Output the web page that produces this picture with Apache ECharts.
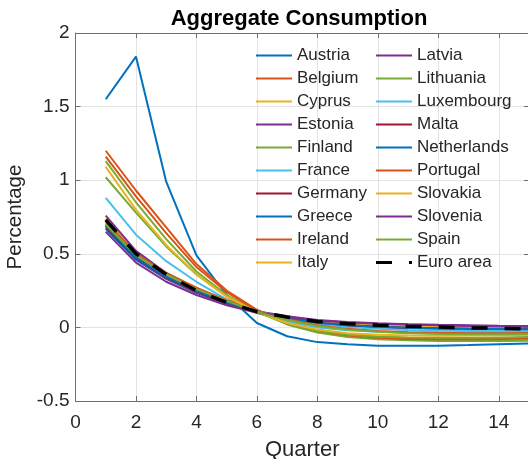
<!DOCTYPE html>
<html>
<head>
<meta charset="utf-8">
<script src="https://cdn.jsdelivr.net/npm/echarts@6/dist/echarts.min.js"></script>
<style>
  html, body { margin: 0; padding: 0; background: #fff; }
  #chart { width: 528px; height: 459px; }
</style>
</head>
<body>
<div id="chart"></div>
<script>
// Quarters after the shock
const quarters = [1, 2, 3, 4, 5, 6, 7, 8, 9, 10, 11, 12, 13, 14, 15];

// Consumption response by country (percentage)
const Austria     = [1.55, 1.84, 0.99, 0.49, 0.22, 0.03, -0.06, -0.10, -0.115, -0.125, -0.125, -0.124, -0.12, -0.115, -0.11];
const Belgium     = [1.20, 0.93, 0.68, 0.43, 0.25, 0.12, 0.03, -0.02, -0.05, -0.065, -0.072, -0.075, -0.076, -0.075, -0.074];
const Cyprus      = [0.74, 0.51, 0.37, 0.265, 0.18, 0.11, 0.068, 0.04, 0.024, 0.014, 0.007, 0.002, -0.002, -0.005, -0.008];
const Estonia     = [0.69, 0.46, 0.33, 0.235, 0.16, 0.105, 0.07, 0.045, 0.03, 0.022, 0.016, 0.012, 0.009, 0.007, 0.005];
const Finland     = [1.13, 0.85, 0.60, 0.38, 0.22, 0.11, 0.02, -0.035, -0.065, -0.08, -0.088, -0.092, -0.093, -0.092, -0.09];
const France      = [0.88, 0.63, 0.45, 0.31, 0.19, 0.10, 0.04, 0.0, -0.02, -0.03, -0.035, -0.037, -0.037, -0.036, -0.035];
const Germany     = [0.70, 0.48, 0.35, 0.25, 0.17, 0.105, 0.065, 0.035, 0.018, 0.008, 0.002, -0.002, -0.005, -0.007, -0.008];
const Greece      = [0.67, 0.46, 0.335, 0.24, 0.165, 0.10, 0.06, 0.03, 0.012, 0.002, -0.004, -0.008, -0.01, -0.011, -0.012];
const Ireland     = [1.16, 0.89, 0.64, 0.41, 0.24, 0.115, 0.025, -0.025, -0.055, -0.07, -0.078, -0.08, -0.08, -0.079, -0.077];
const Italy       = [0.73, 0.50, 0.36, 0.25, 0.17, 0.107, 0.07, 0.04, 0.025, 0.015, 0.008, 0.002, -0.003, -0.006, -0.01];
const Latvia      = [0.76, 0.52, 0.37, 0.26, 0.175, 0.11, 0.075, 0.05, 0.037, 0.028, 0.022, 0.018, 0.015, 0.012, 0.01];
const Lithuania   = [1.02, 0.78, 0.55, 0.36, 0.21, 0.105, 0.025, -0.025, -0.05, -0.062, -0.068, -0.07, -0.07, -0.068, -0.066];
const Luxembourg  = [0.71, 0.49, 0.36, 0.26, 0.18, 0.11, 0.06, 0.025, 0.003, -0.01, -0.018, -0.022, -0.024, -0.025, -0.025];
const Malta       = [0.68, 0.47, 0.34, 0.245, 0.165, 0.105, 0.063, 0.033, 0.015, 0.005, -0.002, -0.006, -0.009, -0.01, -0.011];
const Netherlands = [0.69, 0.475, 0.345, 0.25, 0.17, 0.105, 0.062, 0.032, 0.014, 0.004, -0.003, -0.007, -0.01, -0.011, -0.012];
const Portugal    = [0.72, 0.50, 0.37, 0.27, 0.185, 0.11, 0.055, 0.015, -0.01, -0.025, -0.033, -0.037, -0.039, -0.039, -0.038];
const Slovakia    = [1.09, 0.80, 0.56, 0.36, 0.21, 0.105, 0.03, -0.015, -0.04, -0.05, -0.055, -0.056, -0.055, -0.053, -0.05];
const Slovenia    = [0.65, 0.44, 0.31, 0.22, 0.15, 0.10, 0.07, 0.047, 0.033, 0.025, 0.019, 0.015, 0.012, 0.01, 0.008];
const Spain       = [0.70, 0.49, 0.36, 0.26, 0.18, 0.105, 0.05, 0.01, -0.015, -0.03, -0.04, -0.045, -0.047, -0.047, -0.046];
const EuroArea    = [0.73, 0.50, 0.36, 0.25, 0.17, 0.107, 0.07, 0.04, 0.025, 0.015, 0.008, 0.002, -0.003, -0.006, -0.01];

const countryNames = ['Austria', 'Belgium', 'Cyprus', 'Estonia', 'Finland', 'France', 'Germany',
  'Greece', 'Ireland', 'Italy', 'Latvia', 'Lithuania', 'Luxembourg', 'Malta', 'Netherlands',
  'Portugal', 'Slovakia', 'Slovenia', 'Spain'];
const countryValues = [Austria, Belgium, Cyprus, Estonia, Finland, France, Germany,
  Greece, Ireland, Italy, Latvia, Lithuania, Luxembourg, Malta, Netherlands,
  Portugal, Slovakia, Slovenia, Spain];

// Seven-colour cycle
const palette = ['#0072BD', '#D95319', '#EDB120', '#7E2F8E', '#77AC30', '#4DBEEE', '#A2142F'];

const FONT = '"Liberation Sans", Arial, Helvetica, sans-serif';
const TEXT = '#262626';
const AXIS = '#6e6e6e';

// Legend swatches: a thin bar for countries, dash + dot for the euro area
const LINE_ICON = 'path://M0,0.6h36v1.8h-36z M36,0L36,3';
const DASH_ICON = 'path://M0,0h16v3h-16z M33,0h3v3h-3z';

const pairs = vals => quarters.map((q, i) => [q, vals[i]]);

const series = countryNames.map((name, i) => ({
  name,
  type: 'line',
  data: pairs(countryValues[i]),
  symbol: 'none',
  color: palette[i % palette.length],
  lineStyle: { width: 2, color: palette[i % palette.length] },
  emphasis: { disabled: true },
  z: 2
}));
series.push({
  name: 'Euro area',
  type: 'line',
  data: pairs(EuroArea),
  symbol: 'none',
  color: '#000',
  lineStyle: { width: 3.5, color: '#000', type: [16, 17] },
  emphasis: { disabled: true },
  z: 3
});

const legendCommon = {
  orient: 'vertical',
  top: 44,
  itemWidth: 36,
  itemHeight: 3,
  itemGap: 0,
  padding: 0,
  icon: LINE_ICON,
  selectedMode: false,
  itemStyle: { borderWidth: 0 },
  textStyle: { fontFamily: FONT, fontSize: 17, color: TEXT, lineHeight: 23 }
};

const leftItems = countryNames.slice(0, 10).map(name => ({ name }));
const rightItems = countryNames.slice(10).map(name => ({ name }))
  .concat([{ name: 'Euro area', icon: DASH_ICON }]);

const chart = echarts.init(document.getElementById('chart'), null, { renderer: 'canvas' });
chart.setOption({
  backgroundColor: '#fff',
  animation: false,
  title: {
    text: 'Aggregate Consumption',
    left: 294,
    top: 3,
    textAlign: 'center',
    textStyle: { fontFamily: FONT, fontSize: 22, fontWeight: 'bold', color: '#000' }
  },
  legend: [
    Object.assign({}, legendCommon, { left: 256, data: leftItems }),
    Object.assign({}, legendCommon, { left: 376, data: rightItems })
  ],
  grid: {
    left: 75.5, top: 33, width: 453.5, height: 368,
    containLabel: false, outerBoundsMode: 'none'
  },
  xAxis: [{
    type: 'value', min: 0, max: 15, interval: 2,
    name: 'Quarter', nameLocation: 'middle', nameGap: 38,
    nameTextStyle: { fontFamily: FONT, fontSize: 22, color: TEXT },
    axisLine: { show: true, onZero: false, lineStyle: { color: AXIS, width: 1 } },
    axisTick: { show: true, inside: true, length: 5, lineStyle: { color: AXIS } },
    axisLabel: { fontFamily: FONT, fontSize: 19, color: TEXT, margin: 12, showMaxLabel: false },
    splitLine: { show: true, lineStyle: { color: '#e3e3e3', width: 1 } }
  }, {
    type: 'value', min: 0, max: 15, interval: 2, position: 'top',
    axisLine: { show: true, onZero: false, lineStyle: { color: AXIS, width: 1 } },
    axisTick: { show: true, inside: true, length: 5, lineStyle: { color: AXIS } },
    axisLabel: { show: false },
    splitLine: { show: false }
  }],
  yAxis: [{
    type: 'value', min: -0.5, max: 2, interval: 0.5,
    name: 'Percentage', nameLocation: 'middle', nameGap: 48,
    nameTextStyle: { fontFamily: FONT, fontSize: 20.5, color: TEXT },
    axisLine: { show: true, onZero: false, lineStyle: { color: AXIS, width: 1 } },
    axisTick: { show: true, inside: true, length: 5, lineStyle: { color: AXIS } },
    axisLabel: { fontFamily: FONT, fontSize: 19, color: TEXT, margin: 6 },
    splitLine: { show: true, lineStyle: { color: '#e3e3e3', width: 1 } }
  }, {
    type: 'value', min: -0.5, max: 2, interval: 0.5, position: 'right',
    axisLine: { show: true, onZero: false, lineStyle: { color: AXIS, width: 1 } },
    axisTick: { show: true, inside: true, length: 5, lineStyle: { color: AXIS } },
    axisLabel: { show: false },
    splitLine: { show: false }
  }],
  series
});
</script>
</body>
</html>
